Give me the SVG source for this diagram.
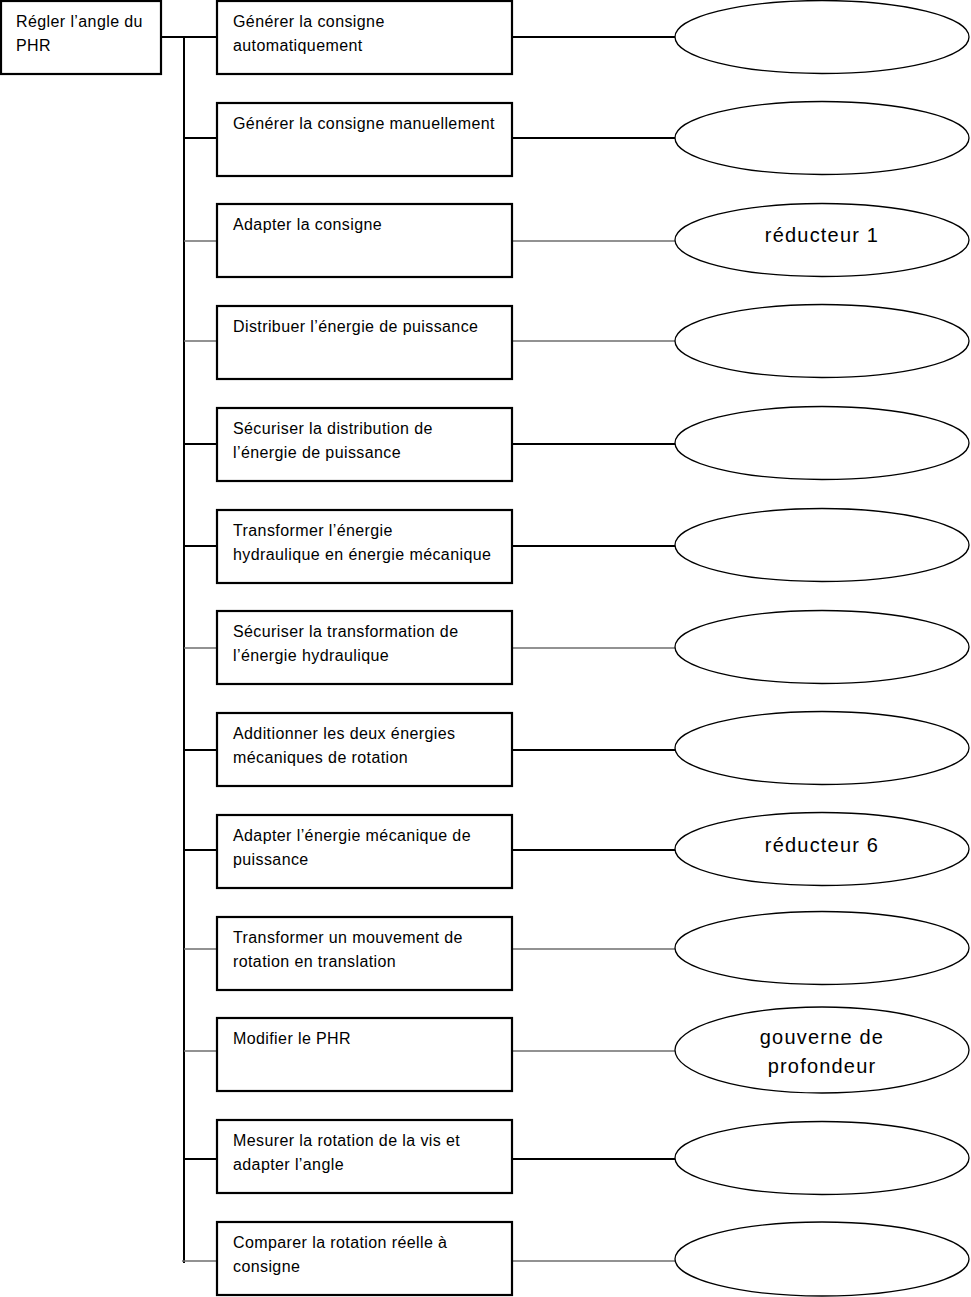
<svg xmlns="http://www.w3.org/2000/svg" width="971" height="1297" viewBox="0 0 971 1297">
<style>
.box{fill:#fff;stroke:#000;stroke-width:2.2}
.ell{fill:#fff;stroke:#000;stroke-width:1.3}
.t{font-family:"Liberation Sans","Open Sans",sans-serif;font-size:16px;letter-spacing:0.4px;fill:#000}
.et{font-family:"Liberation Sans","Open Sans",sans-serif;font-size:20px;letter-spacing:1.2px;fill:#000;text-anchor:middle}
.thick{stroke:#000;stroke-width:2;fill:none}
.thin{stroke:#6e6e6e;stroke-width:1.6;fill:none}
</style>
<rect width="971" height="1297" fill="#fff"/>
<g id="connectors">
<line class="thick" x1="184" y1="36" x2="184" y2="1263"/>
<line class="thick" x1="161" y1="37" x2="217" y2="37"/>
<line class="thick" x1="512" y1="37" x2="675" y2="37"/>
<line class="thick" x1="184" y1="138" x2="217" y2="138"/>
<line class="thick" x1="512" y1="138" x2="675" y2="138"/>
<line class="thin" x1="184" y1="241" x2="217" y2="241"/>
<line class="thin" x1="512" y1="241" x2="675" y2="241"/>
<line class="thin" x1="184" y1="341" x2="217" y2="341"/>
<line class="thin" x1="512" y1="341" x2="675" y2="341"/>
<line class="thick" x1="184" y1="444" x2="217" y2="444"/>
<line class="thick" x1="512" y1="444" x2="675" y2="444"/>
<line class="thick" x1="184" y1="546" x2="217" y2="546"/>
<line class="thick" x1="512" y1="546" x2="675" y2="546"/>
<line class="thin" x1="184" y1="648" x2="217" y2="648"/>
<line class="thin" x1="512" y1="648" x2="675" y2="648"/>
<line class="thick" x1="184" y1="750" x2="217" y2="750"/>
<line class="thick" x1="512" y1="750" x2="675" y2="750"/>
<line class="thick" x1="184" y1="850" x2="217" y2="850"/>
<line class="thick" x1="512" y1="850" x2="675" y2="850"/>
<line class="thin" x1="184" y1="949" x2="217" y2="949"/>
<line class="thin" x1="512" y1="949" x2="675" y2="949"/>
<line class="thin" x1="184" y1="1051" x2="217" y2="1051"/>
<line class="thin" x1="512" y1="1051" x2="675" y2="1051"/>
<line class="thick" x1="184" y1="1159" x2="217" y2="1159"/>
<line class="thick" x1="512" y1="1159" x2="675" y2="1159"/>
<line class="thin" x1="182" y1="1261" x2="217" y2="1261"/>
<line class="thin" x1="512" y1="1261" x2="675" y2="1261"/>
</g>
<g id="root">
<rect class="box" x="1" y="1" width="160" height="73"/>
<text class="t" x="16" y="27">Régler l’angle du</text>
<text class="t" x="16" y="51">PHR</text>
</g>
<g id="f1"><rect class="box" x="217" y="1" width="295" height="73"/>
<text class="t" x="233" y="27">Générer la consigne</text><text class="t" x="233" y="51">automatiquement</text></g>
<g id="f2"><rect class="box" x="217" y="103" width="295" height="73"/>
<text class="t" x="233" y="129">Générer la consigne manuellement</text></g>
<g id="f3"><rect class="box" x="217" y="204" width="295" height="73"/>
<text class="t" x="233" y="230">Adapter la consigne</text></g>
<g id="f4"><rect class="box" x="217" y="306" width="295" height="73"/>
<text class="t" x="233" y="332">Distribuer l’énergie de puissance</text></g>
<g id="f5"><rect class="box" x="217" y="408" width="295" height="73"/>
<text class="t" x="233" y="434">Sécuriser la distribution de</text><text class="t" x="233" y="458">l’énergie de puissance</text></g>
<g id="f6"><rect class="box" x="217" y="510" width="295" height="73"/>
<text class="t" x="233" y="536">Transformer l’énergie</text><text class="t" x="233" y="560">hydraulique en énergie mécanique</text></g>
<g id="f7"><rect class="box" x="217" y="611" width="295" height="73"/>
<text class="t" x="233" y="637">Sécuriser la transformation de</text><text class="t" x="233" y="661">l’énergie hydraulique</text></g>
<g id="f8"><rect class="box" x="217" y="713" width="295" height="73"/>
<text class="t" x="233" y="739">Additionner les deux énergies</text><text class="t" x="233" y="763">mécaniques de rotation</text></g>
<g id="f9"><rect class="box" x="217" y="815" width="295" height="73"/>
<text class="t" x="233" y="841">Adapter l’énergie mécanique de</text><text class="t" x="233" y="865">puissance</text></g>
<g id="f10"><rect class="box" x="217" y="917" width="295" height="73"/>
<text class="t" x="233" y="943">Transformer un mouvement de</text><text class="t" x="233" y="967">rotation en translation</text></g>
<g id="f11"><rect class="box" x="217" y="1018" width="295" height="73"/>
<text class="t" x="233" y="1044">Modifier le PHR</text></g>
<g id="f12"><rect class="box" x="217" y="1120" width="295" height="73"/>
<text class="t" x="233" y="1146">Mesurer la rotation de la vis et</text><text class="t" x="233" y="1170">adapter l’angle</text></g>
<g id="f13"><rect class="box" x="217" y="1222" width="295" height="73"/>
<text class="t" x="233" y="1248">Comparer la rotation réelle à</text><text class="t" x="233" y="1272">consigne</text></g>
<g id="e1"><ellipse class="ell" cx="822" cy="37" rx="147" ry="36.5"/></g>
<g id="e2"><ellipse class="ell" cx="822" cy="138" rx="147" ry="36.5"/></g>
<g id="e3"><ellipse class="ell" cx="822" cy="240" rx="147" ry="36.5"/>
<text class="et" x="822" y="242">réducteur 1</text></g>
<g id="e4"><ellipse class="ell" cx="822" cy="341" rx="147" ry="36.5"/></g>
<g id="e5"><ellipse class="ell" cx="822" cy="443" rx="147" ry="36.5"/></g>
<g id="e6"><ellipse class="ell" cx="822" cy="545" rx="147" ry="36.5"/></g>
<g id="e7"><ellipse class="ell" cx="822" cy="647" rx="147" ry="36.5"/></g>
<g id="e8"><ellipse class="ell" cx="822" cy="748" rx="147" ry="36.5"/></g>
<g id="e9"><ellipse class="ell" cx="822" cy="849" rx="147" ry="36.5"/>
<text class="et" x="822" y="852">réducteur 6</text></g>
<g id="e10"><ellipse class="ell" cx="822" cy="948" rx="147" ry="36.5"/></g>
<g id="e11"><ellipse class="ell" cx="822" cy="1050" rx="147" ry="43"/>
<text class="et" x="822" y="1044">gouverne de</text><text class="et" x="822" y="1073">profondeur</text></g>
<g id="e12"><ellipse class="ell" cx="822" cy="1158" rx="147" ry="36.5"/></g>
<g id="e13"><ellipse class="ell" cx="822" cy="1259" rx="147" ry="37"/></g>
</svg>
